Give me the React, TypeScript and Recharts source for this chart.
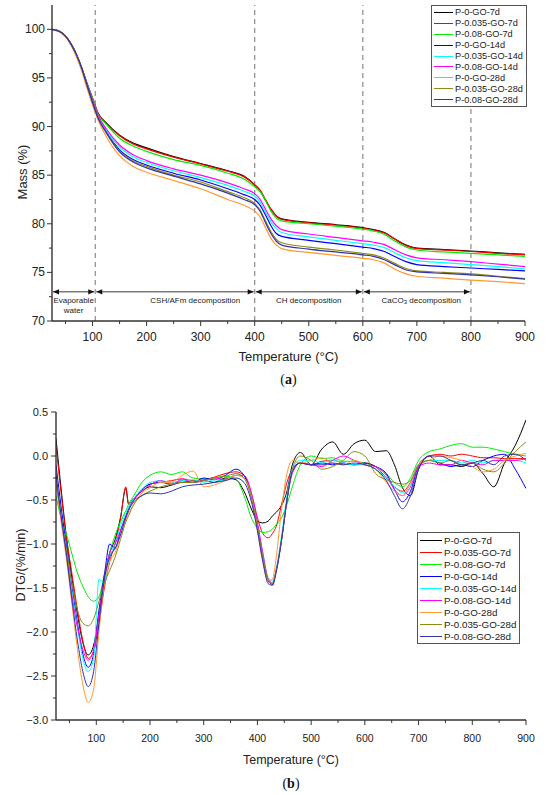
import React from 'react';
import { LineChart, Line, XAxis, YAxis, ReferenceLine, ReferenceDot } from 'recharts';

const FONT = '"Liberation Sans", Arial, Helvetica, sans-serif';
const AXIS = '#333333';

const seriesNames = [
  'P-0-GO-7d',
  'P-0.035-GO-7d',
  'P-0.08-GO-7d',
  'P-0-GO-14d',
  'P-0.035-GO-14d',
  'P-0.08-GO-14d',
  'P-0-GO-28d',
  'P-0.035-GO-28d',
  'P-0.08-GO-28d',
];
const seriesColors = ['#000000', '#ff0000', '#00ee00', '#0000ff', '#00ffff', '#ff00ff', '#ff9933', '#8c8c14', '#3333aa'];

// (a) TG curves, mass %
const tgTemps = [25, 40, 50, 60, 70, 80, 90, 100, 110, 125, 150, 175, 200, 250, 300, 350, 380, 400, 410, 420, 430, 440, 450, 500, 550, 600, 620, 640, 660, 680, 700, 750, 800, 850, 900];
const tgP0Go7d = [100, 99.75, 99.3, 98.5, 97.4, 96.0, 94.4, 92.9, 91.4, 90.4, 89.1, 88.3, 87.8, 86.9, 86.2, 85.45, 84.9, 84.0, 83.4, 82.4, 81.5, 80.8, 80.5, 80.15, 79.9, 79.6, 79.4, 79.1, 78.4, 77.8, 77.5, 77.35, 77.2, 77.0, 76.85];
const tgP035Go7d = [100, 99.75, 99.3, 98.5, 97.4, 96.0, 94.4, 92.9, 91.4, 90.35, 89.05, 88.2, 87.7, 86.85, 86.15, 85.4, 84.85, 84.0, 83.45, 82.5, 81.5, 80.8, 80.45, 80.1, 79.85, 79.55, 79.35, 79.05, 78.4, 77.75, 77.45, 77.3, 77.15, 76.95, 76.8];
const tgP08Go7d = [100, 99.75, 99.3, 98.5, 97.4, 96.0, 94.4, 92.9, 91.3, 90.25, 88.8, 88.0, 87.45, 86.6, 86.0, 85.2, 84.6, 83.8, 83.3, 82.4, 81.3, 80.6, 80.3, 80.0, 79.75, 79.45, 79.25, 78.9, 78.2, 77.6, 77.3, 77.1, 76.95, 76.8, 76.65];
const tgP0Go14d = [100, 99.75, 99.3, 98.5, 97.4, 96.0, 94.3, 92.6, 91.0, 89.5, 87.6, 86.6, 86.05, 85.2, 84.5, 83.6, 83.0, 82.5, 81.9, 80.9, 79.8, 79.0, 78.7, 78.3, 77.95, 77.6, 77.45, 77.15, 76.6, 76.1, 75.8, 75.6, 75.45, 75.3, 75.15];
const tgP035Go14d = [100, 99.75, 99.3, 98.5, 97.4, 96.0, 94.3, 92.6, 91.1, 89.65, 87.9, 86.9, 86.3, 85.45, 84.75, 83.95, 83.35, 82.85, 82.2, 81.2, 80.2, 79.5, 79.1, 78.65, 78.3, 77.95, 77.8, 77.55, 77.0, 76.5, 76.2, 76.0, 75.8, 75.6, 75.35];
const tgP08Go14d = [100, 99.75, 99.3, 98.5, 97.4, 96.0, 94.3, 92.7, 91.2, 89.8, 88.1, 87.1, 86.5, 85.65, 85.0, 84.2, 83.6, 83.1, 82.5, 81.5, 80.5, 79.8, 79.4, 78.95, 78.6, 78.25, 78.1, 77.85, 77.3, 76.8, 76.5, 76.3, 76.1, 75.85, 75.6];
const tgP0Go28d = [100, 99.7, 99.2, 98.4, 97.2, 95.7, 93.9, 92.2, 90.7, 89.0, 87.0, 85.9, 85.3, 84.45, 83.6, 82.5, 81.9, 81.3, 80.7, 79.6, 78.5, 77.8, 77.45, 77.05, 76.75, 76.45, 76.3, 75.95, 75.3, 74.85, 74.6, 74.4, 74.2, 74.05, 73.85];
const tgP035Go28d = [100, 99.75, 99.3, 98.5, 97.4, 96.0, 94.2, 92.5, 90.95, 89.45, 87.5, 86.45, 85.9, 85.0, 84.3, 83.3, 82.7, 82.1, 81.4, 80.3, 79.2, 78.4, 78.05, 77.6, 77.3, 76.95, 76.8, 76.45, 75.9, 75.4, 75.15, 75.0, 74.85, 74.6, 74.35];
const tgP08Go28d = [100, 99.75, 99.3, 98.5, 97.4, 96.0, 94.2, 92.5, 90.9, 89.4, 87.4, 86.35, 85.75, 84.9, 84.1, 83.15, 82.5, 81.95, 81.3, 80.1, 79.0, 78.2, 77.8, 77.4, 77.1, 76.8, 76.65, 76.3, 75.75, 75.25, 75.05, 74.9, 74.75, 74.55, 74.3];
const tgSeries = [tgP0Go7d, tgP035Go7d, tgP08Go7d, tgP0Go14d, tgP035Go14d, tgP08Go14d, tgP0Go28d, tgP035Go28d, tgP08Go28d];

// (b) DTG curves, %/min
const dtgTemps = [25, 35, 45, 55, 65, 75, 85, 95, 105, 115, 125, 135, 145, 155, 160, 170, 185, 200, 220, 240, 260, 280, 300, 320, 340, 360, 375, 390, 400, 410, 420, 428, 435, 445, 455, 465, 480, 500, 520, 540, 560, 580, 600, 620, 640, 655, 670, 685, 700, 720, 740, 760, 780, 800, 820, 840, 860, 880, 900];
const dtgP0Go7d = [0.2, -0.4, -0.95, -1.4, -1.8, -2.12, -2.26, -2.15, -1.8, -1.4, -1.1, -0.95, -0.7, -0.37, -0.54, -0.48, -0.4, -0.35, -0.36, -0.33, -0.3, -0.3, -0.28, -0.3, -0.25, -0.27, -0.4, -0.62, -0.74, -0.76, -0.74, -0.68, -0.64, -0.56, -0.4, -0.1, 0.04, -0.1, 0.08, 0.16, 0.02, 0.14, 0.18, 0.05, 0.06, -0.1, -0.36, -0.45, -0.15, 0.0, -0.1, -0.1, -0.12, -0.08, -0.2, -0.35, -0.08, 0.12, 0.41];
const dtgP035Go7d = [0.12, -0.45, -0.95, -1.35, -1.75, -2.1, -2.3, -2.22, -1.9, -1.5, -1.2, -1.0, -0.72, -0.35, -0.55, -0.5, -0.38, -0.32, -0.3, -0.28, -0.26, -0.28, -0.27, -0.24, -0.2, -0.18, -0.22, -0.45, -0.7, -0.88, -0.93, -0.88, -0.8, -0.55, -0.3, -0.15, -0.08, -0.1, -0.06, -0.05, -0.08, -0.1, -0.08, -0.12, -0.25, -0.35, -0.4, -0.3, -0.1, 0.0, 0.02, 0.0, 0.02, 0.0, -0.02, -0.02, -0.03, -0.03, -0.03];
const dtgP08Go7d = [-0.45, -0.72, -0.9, -1.12, -1.33, -1.48, -1.6, -1.65, -1.6, -1.35, -1.1, -0.9, -0.75, -0.62, -0.55, -0.45, -0.3, -0.22, -0.18, -0.21, -0.18, -0.25, -0.26, -0.25, -0.23, -0.26, -0.45, -0.72, -0.82, -0.87, -0.86, -0.83, -0.78, -0.7, -0.55, -0.35, -0.1, 0.0, -0.03, -0.02, -0.06, -0.06, -0.08, -0.12, -0.2, -0.3, -0.35, -0.25, -0.05, 0.05, 0.08, 0.12, 0.14, 0.1, 0.1, 0.08, 0.05, 0.02, 0.0];
const dtgP0Go14d = [-0.1, -0.6, -1.05, -1.5, -1.9, -2.25, -2.4, -2.25, -1.75, -1.35, -1.0, -1.05, -0.85, -0.68, -0.6, -0.5, -0.38, -0.32, -0.3, -0.32, -0.28, -0.3, -0.25, -0.27, -0.22, -0.15, -0.22, -0.5, -0.8, -1.15, -1.42, -1.46, -1.3, -0.95, -0.5, -0.15, -0.08, -0.1, -0.08, -0.1, -0.08, -0.1, -0.08, -0.12, -0.2, -0.38, -0.52, -0.4, -0.12, -0.05, -0.08, -0.12, -0.1, -0.12, -0.05, 0.0, 0.02, -0.15, -0.37];
const dtgP035Go14d = [-0.2, -0.7, -1.1, -1.55, -1.95, -2.3, -2.45, -2.3, -1.4, -1.45, -1.15, -1.0, -0.8, -0.65, -0.58, -0.48, -0.38, -0.3, -0.28, -0.3, -0.28, -0.27, -0.3, -0.27, -0.28, -0.2, -0.25, -0.48, -0.78, -1.1, -1.38, -1.42, -1.28, -0.9, -0.45, -0.15, -0.05, -0.05, -0.08, -0.05, -0.08, -0.1, -0.1, -0.15, -0.25, -0.35, -0.42, -0.32, -0.1, -0.05, -0.05, -0.05, -0.08, -0.05, -0.08, -0.05, -0.05, -0.05, -0.08];
const dtgP08Go14d = [-0.25, -0.75, -1.15, -1.6, -1.95, -2.2, -2.32, -2.2, -1.8, -1.4, -1.1, -1.0, -0.85, -0.7, -0.62, -0.5, -0.4, -0.33, -0.28, -0.33, -0.26, -0.3, -0.28, -0.25, -0.27, -0.22, -0.22, -0.45, -0.75, -1.1, -1.4, -1.45, -1.3, -0.95, -0.5, -0.2, -0.08, -0.1, -0.12, -0.05, 0.0, -0.05, -0.1, -0.12, -0.22, -0.38, -0.45, -0.35, -0.12, -0.08, -0.1, -0.1, -0.05, -0.08, -0.1, -0.05, -0.05, -0.05, -0.03];
const dtgP0Go28d = [-0.3, -0.75, -1.2, -1.7, -2.2, -2.6, -2.8, -2.65, -2.0, -1.45, -1.2, -1.1, -0.9, -0.72, -0.65, -0.55, -0.42, -0.36, -0.3, -0.3, -0.22, -0.17, -0.35, -0.33, -0.28, -0.22, -0.25, -0.5, -0.85, -1.2, -1.42, -1.4, -1.15, -0.6, -0.2, -0.05, -0.08, -0.05, -0.02, -0.08, -0.1, -0.05, -0.1, -0.15, -0.3, -0.4, -0.45, -0.3, -0.1, -0.05, 0.0, -0.02, -0.05, -0.12, -0.18, -0.15, -0.05, 0.0, 0.03];
const dtgP035Go28d = [-0.3, -0.7, -1.1, -1.45, -1.75, -1.9, -1.93, -1.85, -1.65, -1.45, -1.3, -1.15, -0.95, -0.75, -0.68, -0.55, -0.45, -0.4, -0.35, -0.32, -0.3, -0.3, -0.28, -0.25, -0.23, -0.2, -0.25, -0.5, -0.8, -1.15, -1.4, -1.44, -1.3, -0.95, -0.5, -0.15, 0.0, -0.05, -0.15, -0.12, -0.05, 0.05, 0.0, -0.2, -0.27, -0.3, -0.32, -0.28, -0.1, -0.05, -0.08, -0.05, -0.1, -0.08, -0.15, -0.18, -0.08, 0.05, 0.16];
const dtgP08Go28d = [-0.2, -0.7, -1.15, -1.65, -2.1, -2.45, -2.62, -2.45, -1.9, -1.4, -1.15, -1.05, -0.9, -0.7, -0.62, -0.52, -0.45, -0.42, -0.43, -0.4, -0.35, -0.33, -0.32, -0.3, -0.28, -0.25, -0.3, -0.55, -0.85, -1.2, -1.45, -1.47, -1.32, -0.95, -0.5, -0.18, -0.08, -0.1, -0.1, -0.08, -0.1, -0.08, -0.1, -0.15, -0.28, -0.45, -0.6, -0.45, -0.15, 0.0, 0.0, -0.05, -0.1, -0.08, -0.05, -0.1, 0.0, 0.02, -0.05];
const dtgSeries = [dtgP0Go7d, dtgP035Go7d, dtgP08Go7d, dtgP0Go14d, dtgP035Go14d, dtgP08Go14d, dtgP0Go28d, dtgP035Go28d, dtgP08Go28d];

// axis ticks (majors get labels, the rest are minor marks)
const tempTicks = [50, 100, 150, 200, 250, 300, 350, 400, 450, 500, 550, 600, 650, 700, 750, 800, 850, 900];
const massTicks = [70, 72.5, 75, 77.5, 80, 82.5, 85, 87.5, 90, 92.5, 95, 97.5, 100];
const dtgTicks = [-3, -2.75, -2.5, -2.25, -2, -1.75, -1.5, -1.25, -1, -0.75, -0.5, -0.25, 0, 0.25, 0.5];

// annotations of panel (a)
const regionBounds = [105, 400, 600, 800];
const arrowSpans = [
  [25, 105],
  [105, 400],
  [400, 600],
  [600, 800],
];
const arrowLevel = 73;
const regionLabels = [
  { t: 65, v: 72.15, text: 'Evaporable' },
  { t: 65, v: 71.05, text: 'water' },
  { t: 290, v: 72.15, text: 'CSH/AFm decomposition' },
  { t: 500, v: 72.15, text: 'CH decomposition' },
  { t: 708, v: 72.15, text: 'CaCO', sub: '3', tail: ' decomposition' },
];

function toRows(temps: number[], series: number[][]) {
  return temps.map((t, i) => {
    const row: Record<string, number> = { t };
    series.forEach((s, k) => {
      row['s' + k] = s[i];
    });
    return row;
  });
}

const tgRows = toRows(tgTemps, tgSeries);
const dtgRows = toRows(dtgTemps, dtgSeries);

function makeXTick(fontSize: number, gap: number) {
  return function XTick(props: any) {
    const { x, y, payload } = props;
    const v = payload.value as number;
    const major = v % 100 === 0;
    const axisY = y - 8;
    return (
      <g>
        <line x1={x} x2={x} y1={axisY} y2={axisY + (major ? 5 : 3)} stroke={AXIS} strokeWidth={1} />
        {major && (
          <text x={x} y={axisY + gap} textAnchor="middle" dominantBaseline="central" fontSize={fontSize} fontFamily={FONT} fill="#222">
            {v}
          </text>
        )}
      </g>
    );
  };
}

function makeYTick(fontSize: number, gap: number, isMajor: (v: number) => boolean, fmt: (v: number) => string) {
  return function YTick(props: any) {
    const { x, y, payload } = props;
    const v = payload.value as number;
    const major = isMajor(v);
    const axisX = x + 8;
    return (
      <g>
        <line x1={axisX} x2={axisX - (major ? 5 : 3)} y1={y} y2={y} stroke={AXIS} strokeWidth={1} />
        {major && (
          <text x={axisX - gap} y={y} textAnchor="end" dominantBaseline="central" fontSize={fontSize} fontFamily={FONT} fill="#222">
            {fmt(v)}
          </text>
        )}
      </g>
    );
  };
}

const fmtDtg = (v: number) => (v < 0 ? '\u2212' : '') + Math.abs(v).toFixed(1);

function ArrowSegment(props: any) {
  const { x1, y1, x2 } = props;
  const a = x1 + 1;
  const b = x2 - 1;
  const h = 6;
  const w = 2.6;
  return (
    <g>
      <line x1={a} y1={y1} x2={b} y2={y1} stroke="#222" strokeWidth={0.9} />
      <polygon points={`${a},${y1} ${a + h},${y1 - w} ${a + h},${y1 + w}`} fill="#111" />
      <polygon points={`${b},${y1} ${b - h},${y1 - w} ${b - h},${y1 + w}`} fill="#111" />
    </g>
  );
}

function RegionText(props: any) {
  const { cx, cy, item } = props;
  return (
    <text x={cx} y={cy} textAnchor="middle" dominantBaseline="central" fontSize={8} fontFamily={FONT} fill="#222">
      {item.text}
      {item.sub && (
        <tspan dy={2} fontSize={6}>
          {item.sub}
        </tspan>
      )}
      {item.tail && <tspan dy={item.sub ? -2 : 0}>{item.tail}</tspan>}
    </text>
  );
}

function xTitle(title: string, panel: string, titleDy: number, panelDy: number, fontSize: number) {
  return (props: any) => {
    const { x, y, width } = props.viewBox;
    const cx = x + width / 2;
    return (
      <g>
        <text x={cx} y={y + titleDy} textAnchor="middle" dominantBaseline="central" fontSize={fontSize} fontFamily={FONT} fill="#222">
          {title}
        </text>
        <text x={cx} y={y + panelDy} textAnchor="middle" dominantBaseline="central" fontSize={14} fontFamily='"Liberation Serif", "DejaVu Serif", serif' fill="#111">
          (<tspan fontWeight="bold">{panel}</tspan>)
        </text>
      </g>
    );
  };
}

function yTitle(title: string, cxOff: number, cyOff: number, fontSize: number) {
  return (props: any) => {
    const { x, y, height } = props.viewBox;
    const cx = x + cxOff;
    const cy = y + height / 2 + cyOff;
    return (
      <text x={cx} y={cy} transform={`rotate(-90 ${cx} ${cy})`} textAnchor="middle" dominantBaseline="central" fontSize={fontSize} fontFamily={FONT} fill="#222">
        {title}
      </text>
    );
  };
}

function LegendBox({ left, top, rowH, lineW, fontSize }: { left: number; top: number; rowH: number; lineW: number; fontSize: number }) {
  return (
    <div
      style={{
        position: 'absolute',
        left,
        top,
        border: '1px solid #555',
        background: '#fff',
        padding: '1px 3px 1px 2px',
        fontFamily: FONT,
        fontSize,
        color: '#222',
      }}
    >
      {seriesNames.map((name, i) => (
        <div key={name} style={{ display: 'flex', alignItems: 'center', height: rowH, whiteSpace: 'nowrap' }}>
          <span style={{ display: 'inline-block', width: lineW, borderTop: `1.5px solid ${seriesColors[i]}`, marginRight: 2 }} />
          <span>{name}</span>
        </div>
      ))}
    </div>
  );
}

export default function App() {
  return (
    <div style={{ position: 'absolute', left: 0, top: 0, width: 550, height: 795, background: '#fff', overflow: 'hidden' }}>
      <div style={{ position: 'absolute', left: 0, top: 0 }}>
        <LineChart width={550} height={395} data={tgRows} margin={{ top: 5, right: 25, bottom: 14, left: 0 }}>
          <XAxis
            type="number"
            dataKey="t"
            domain={[25, 900]}
            ticks={tempTicks}
            interval={0}
            allowDataOverflow
            height={60}
            tickSize={5}
            tickMargin={3}
            tickLine={false}
            tick={makeXTick(12, 16)}
            axisLine={{ stroke: AXIS, strokeWidth: 1.4 }}
            label={xTitle('Temperature (°C)', 'a', 35, 58, 13)}
          />
          <YAxis
            type="number"
            domain={[70, 102.5]}
            ticks={massTicks}
            interval={0}
            allowDataOverflow
            width={52}
            tickSize={5}
            tickMargin={3}
            tickLine={false}
            tick={makeYTick(12, 7, (v) => v % 5 === 0, (v) => String(v))}
            axisLine={{ stroke: AXIS, strokeWidth: 1.4 }}
            label={yTitle('Mass (%)', 22, 9, 13)}
          />
          {regionBounds.map((b) => (
            <ReferenceLine key={'b' + b} x={b} stroke="#808080" strokeWidth={1.1} strokeDasharray="5 4" />
          ))}
          {arrowSpans.map(([from, to]) => (
            <ReferenceLine
              key={'a' + from}
              segment={[
                { x: from, y: arrowLevel },
                { x: to, y: arrowLevel },
              ]}
              shape={(p: any) => <ArrowSegment {...p} />}
            />
          ))}
          {regionLabels.map((item) => (
            <ReferenceDot key={item.text + item.v} x={item.t} y={item.v} r={0} shape={(p: any) => <RegionText {...p} item={item} />} />
          ))}
          {tgSeries.map((_, k) => (
            <Line
              key={seriesNames[k]}
              name={seriesNames[k]}
              dataKey={'s' + k}
              type="monotone"
              stroke={seriesColors[k]}
              strokeWidth={1.2}
              dot={false}
              isAnimationActive={false}
            />
          ))}
        </LineChart>
      </div>
      <div style={{ position: 'absolute', left: 0, top: 395 }}>
        <LineChart width={550} height={400} data={dtgRows} margin={{ top: 17, right: 24, bottom: 15, left: 0 }}>
          <XAxis
            type="number"
            dataKey="t"
            domain={[25, 900]}
            ticks={tempTicks}
            interval={0}
            allowDataOverflow
            height={60}
            tickSize={5}
            tickMargin={3}
            tickLine={false}
            tick={makeXTick(10.5, 18)}
            axisLine={{ stroke: AXIS, strokeWidth: 1.4 }}
            label={xTitle('Temperature (°C)', 'b', 40, 63, 12.5)}
          />
          <YAxis
            type="number"
            domain={[-3, 0.5]}
            ticks={dtgTicks}
            interval={0}
            allowDataOverflow
            width={56}
            tickSize={5}
            tickMargin={3}
            tickLine={false}
            tick={makeYTick(11, 8, (v) => Math.abs(v * 2 - Math.round(v * 2)) < 1e-6, fmtDtg)}
            axisLine={{ stroke: AXIS, strokeWidth: 1.4 }}
            label={yTitle('DTG/(%/min)', 21, -1, 12.5)}
          />
          {dtgSeries.map((_, k) => (
            <Line
              key={seriesNames[k]}
              name={seriesNames[k]}
              dataKey={'s' + k}
              type="monotone"
              stroke={seriesColors[k]}
              strokeWidth={1}
              dot={false}
              isAnimationActive={false}
            />
          ))}
        </LineChart>
      </div>
      <LegendBox left={431} top={5} rowH={10.9} lineW={19} fontSize={9.2} />
      <LegendBox left={417} top={532} rowH={12} lineW={22} fontSize={9.8} />
    </div>
  );
}
